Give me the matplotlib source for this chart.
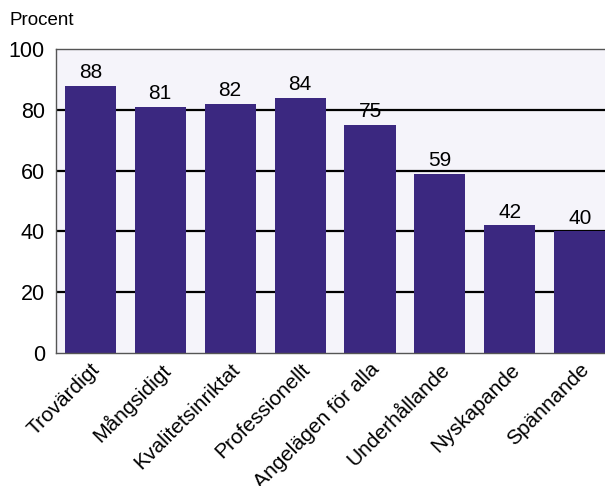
import numpy as np
import matplotlib.pyplot as plt

plt.rcParams['font.family'] = ['Liberation Sans', 'DejaVu Sans']

kategorier = ["Trovärdigt", "Mångsidigt", "Kvalitetsinriktat", "Professionellt",
              "Angelägen för alla", "Underhållande", "Nyskapande", "Spännande"]
procent = [88, 81, 82, 84, 75, 59, 42, 40]
yticks = [0, 20, 40, 60, 80, 100]

fig = plt.figure(figsize=(6.05, 4.86), dpi=100)
ax = fig.add_axes([0.0926, 0.2737, 0.9074, 0.6253])
ax.set_facecolor('#f5f4fa')

x = np.arange(len(kategorier))
ax.bar(x, procent, width=0.73, color='#3b2880', zorder=2)

# value labels above bars (gridlines drawn over them like in the original)
for xi, v in zip(x, procent):
    ax.text(xi, v + 1.2, str(v), ha='center', va='bottom', fontsize=15, zorder=1)

for t in yticks[1:-1]:
    ax.axhline(t, color='black', lw=1.6, zorder=1.5)

ax.set_ylim(0, 100)
ax.set_xlim(-0.49, 7.36)
ax.set_yticks(yticks)
ax.tick_params(axis='y', length=0, pad=8, labelsize=15.5)
ax.tick_params(axis='x', length=0, pad=5, labelsize=15)
ax.set_xticks(x)
ax.set_xticklabels(kategorier, rotation=45, ha='right', va='top', rotation_mode='anchor')

for s in ['left', 'bottom', 'top']:
    ax.spines[s].set_color('#555555')
    ax.spines[s].set_linewidth(1.0)
ax.spines['right'].set_visible(False)

fig.text(0.015, 0.958, "Procent", fontsize=13.5, ha='left', va='center')

fig.savefig('out.png', dpi=100)
